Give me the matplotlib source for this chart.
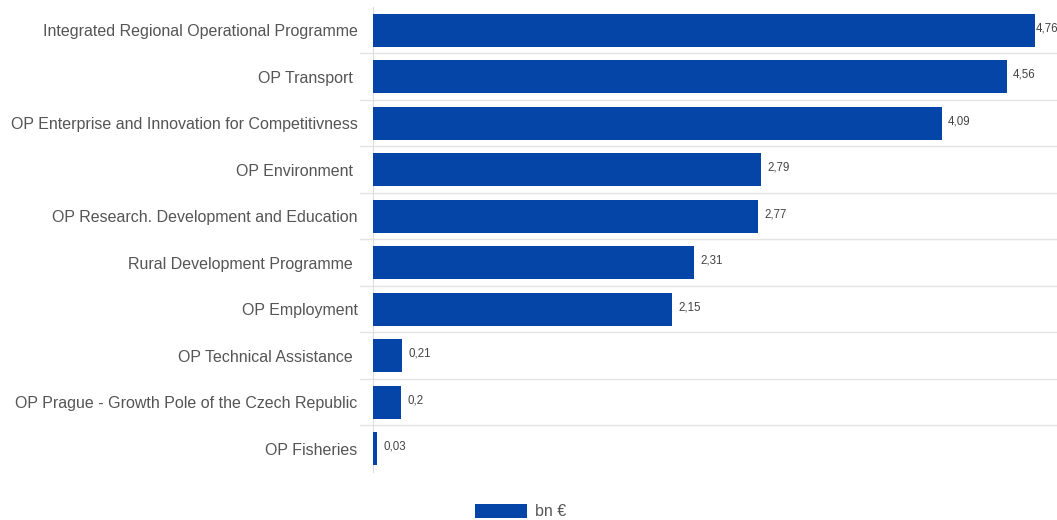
import matplotlib.pyplot as plt

plt.rcParams["font.family"] = ["Liberation Sans", "DejaVu Sans"]

programmes = [
    "Integrated Regional Operational Programme",
    "OP Transport ",
    "OP Enterprise and Innovation for Competitivness",
    "OP Environment ",
    "OP Research. Development and Education",
    "Rural Development Programme ",
    "OP Employment",
    "OP Technical Assistance ",
    "OP Prague - Growth Pole of the Czech Republic",
    "OP Fisheries",
]
allocation = [4.76, 4.56, 4.09, 2.79, 2.77, 2.31, 2.15, 0.21, 0.2, 0.03]
value_labels = ["4,76", "4,56", "4,09", "2,79", "2,77", "2,31", "2,15", "0,21", "0,2", "0,03"]

bar_color = "#0645a8"

fig = plt.figure(figsize=(10.57, 5.2), dpi=100)
ax = fig.add_axes([373 / 1057, 48 / 520, 684 / 1057, 465 / 520])

pos = list(range(len(programmes)))
ax.barh(pos, allocation, height=0.71, color=bar_color, label="bn €", zorder=3)

ax.set_ylim(len(programmes) - 0.5, -0.5)
ax.set_xlim(0, 4.92)

for p, v, txt in zip(pos, allocation, value_labels):
    # the longest bar leaves little room, so its label hugs the bar end
    dx = 1 if p == 0 else 4.5
    ax.annotate(txt, (v, p), xytext=(dx, 1.5), textcoords="offset points",
                ha="left", va="center", fontsize=8.3, color="#444444")

# separators between rows, reaching a bit left of the axis
for p in pos[:-1]:
    ax.axhline(p + 0.5, xmin=-13 / 684, xmax=1, color="#e3e3e3",
               linewidth=1, clip_on=False, zorder=1)

ax.set_yticks(pos)
ax.set_yticklabels(programmes, fontsize=11.5, color="#555555")
ax.tick_params(axis="y", length=0, pad=11)
ax.set_xticks([])

for side in ["top", "right", "bottom"]:
    ax.spines[side].set_visible(False)
ax.spines["left"].set_color("#dddddd")

fig.legend(loc="center", bbox_to_anchor=(0.4925, 0.016), frameon=False,
           fontsize=11.5, handlelength=3.3, handleheight=1.0,
           handletextpad=0.5, labelcolor="#555555")

fig.savefig("out.png", dpi=100)
